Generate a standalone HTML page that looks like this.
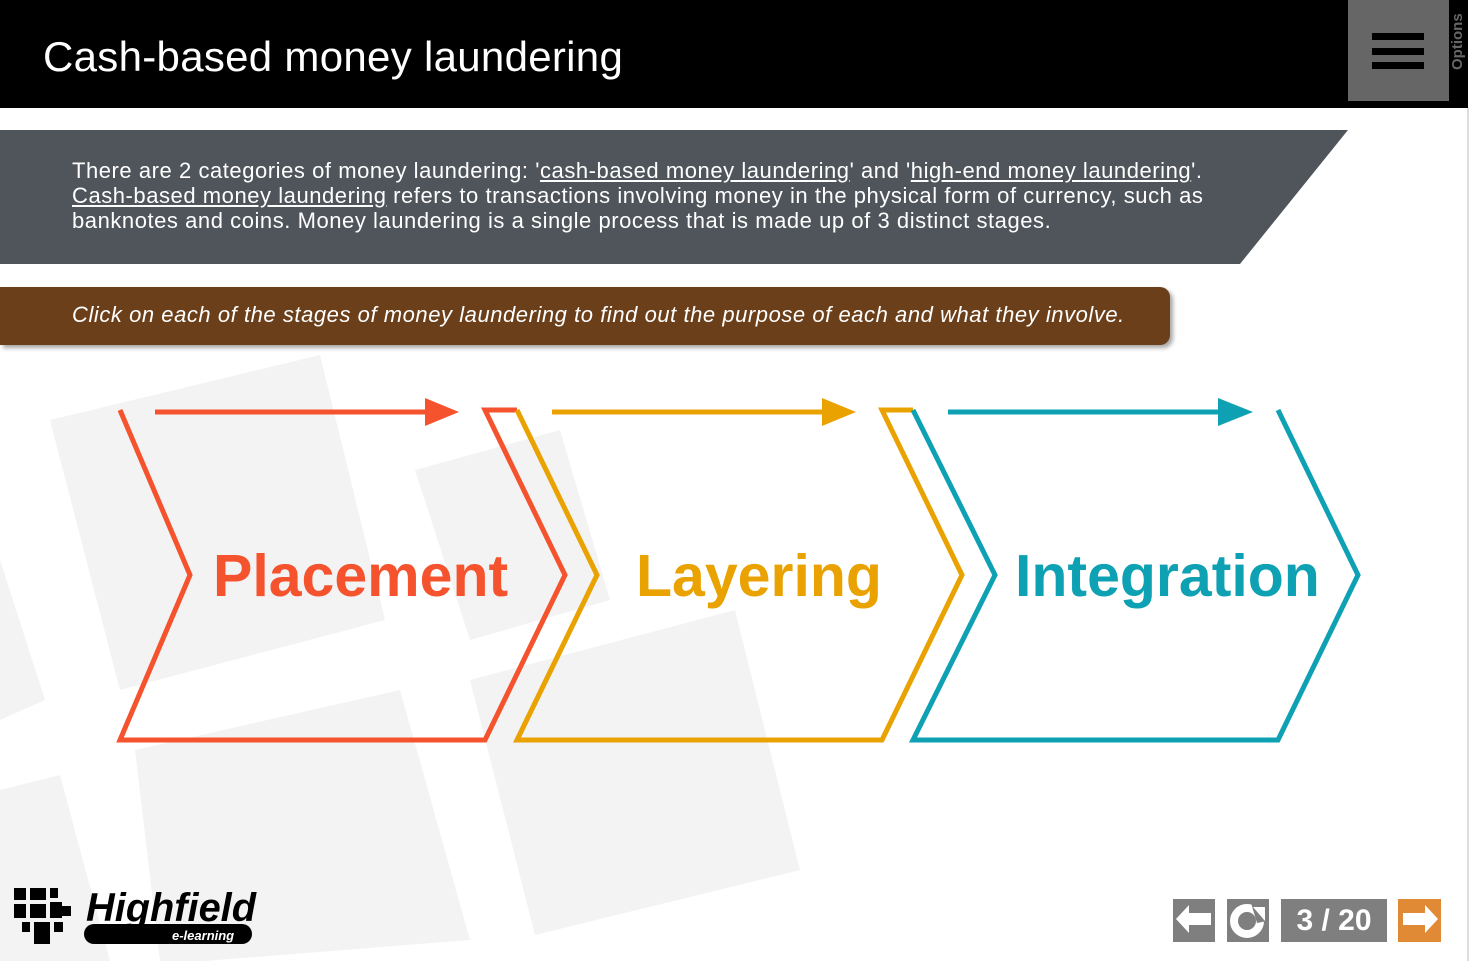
<!DOCTYPE html>
<html><head><meta charset="utf-8"><style>
body{margin:0;width:1470px;height:961px;overflow:hidden;background:#fff;font-family:"Liberation Sans",sans-serif;position:relative}
.hdr{position:absolute;left:0;top:0;width:1468px;height:108px;background:#000}
.hdr h1{position:absolute;left:43px;top:33px;margin:0;color:#fff;font-weight:normal;font-size:42px;letter-spacing:0.3px}
.menu{position:absolute;left:1348px;top:0;width:101px;height:101px;background:#666}
.menu i{position:absolute;left:24px;width:52px;height:7px;background:#000}
.opt{position:absolute;left:1449px;top:0;width:19px;height:70px;color:#666;font-weight:bold;font-size:15px;writing-mode:vertical-rl;transform:rotate(180deg);text-align:left}
.vline{position:absolute;left:1467px;top:108px;width:2px;height:853px;background:#ddd}
.txt{position:absolute;left:72px;top:158px;color:#fff;font-size:22px;line-height:25px;width:1150px;letter-spacing:0.55px}
.txt u{text-decoration:underline}
.brown{position:absolute;left:0;top:287px;width:1170px;height:58px;background:#6b3f1a;border-radius:0 10px 10px 0;box-shadow:3px 3px 4px rgba(0,0,0,.35)}
.brown span{position:absolute;left:72px;top:15px;color:#fff;font-style:italic;font-size:22px;letter-spacing:0.55px;white-space:nowrap}
.lab{position:absolute;font-weight:bold;font-size:59px}
.nav{position:absolute;top:899px;height:43px;background:#7f7f7f}
</style></head><body>
<svg width="1470" height="961" style="position:absolute;left:0;top:0">
<g fill="#f3f3f3">
<polygon points="50,420 320,355 385,620 120,690"/>
<polygon points="415,470 560,430 610,600 470,640"/>
<polygon points="470,680 735,610 800,870 535,935"/>
<polygon points="135,750 400,690 470,940 205,961 160,961"/>
<polygon points="0,560 45,700 0,720"/>
<polygon points="0,790 60,775 110,961 0,961"/>
</g>
<polygon points="0,130 1348,130 1240,264 0,264" fill="#4f555b"/>
<g fill="none" stroke-width="5" stroke-linejoin="miter">
<path d="M120 410 L190 575 L120 740 L485 740 L565 575 L485 410 L517 410" stroke="#f4532e"/>
<path d="M517 410 L597 575 L517 740 L882 740 L962 575 L882 410 L913 410" stroke="#e9a200"/>
<path d="M913 410 L995 575 L913 740 L1278 740 L1358 575 L1278 410" stroke="#0ea1b3"/>
<line x1="155" y1="412" x2="430" y2="412" stroke="#f4532e"/>
<line x1="552" y1="412" x2="827" y2="412" stroke="#e9a200"/>
<line x1="948" y1="412" x2="1224" y2="412" stroke="#0ea1b3"/>
</g>
<polygon points="425,398 459,412 425,426" fill="#f4532e"/>
<polygon points="822,398 856,412 822,426" fill="#e9a200"/>
<polygon points="1218,398 1253,412 1218,426" fill="#0ea1b3"/>
<g fill="#000">
<rect x="14" y="888" width="12" height="12"/><rect x="30" y="888" width="16" height="12"/><rect x="50" y="888" width="8" height="10"/>
<rect x="14" y="904" width="12" height="14"/><rect x="30" y="904" width="16" height="14"/><rect x="50" y="902" width="12" height="16"/><rect x="62" y="906" width="9" height="10"/>
<rect x="22" y="922" width="8" height="10"/><rect x="34" y="922" width="16" height="22"/><rect x="54" y="922" width="9" height="10"/>
<rect x="84" y="924" width="168" height="20" rx="10"/>
</g>
<text x="86" y="921" font-family="Liberation Sans" font-weight="bold" font-style="italic" font-size="40" fill="#000" textLength="170" lengthAdjust="spacingAndGlyphs">Highfield</text>
<text x="172" y="940" font-family="Liberation Sans" font-weight="bold" font-style="italic" font-size="13" fill="#fff">e-learning</text>
</svg>
<div class="hdr"><h1>Cash-based money laundering</h1></div>
<div class="menu"><i style="top:33px"></i><i style="top:48px"></i><i style="top:62px"></i></div>
<div class="opt">Options</div>
<div class="vline"></div>
<div class="txt">There are 2 categories of money laundering: '<u>cash-based money laundering</u>' and '<u>high-end money laundering</u>'.<br><u>Cash-based money laundering</u> refers to transactions involving money in the physical form of currency, such as banknotes and coins. Money laundering is a single process that is made up of 3 distinct stages.</div>
<div class="brown"><span>Click on each of the stages of money laundering to find out the purpose of each and what they involve.</span></div>
<div class="lab" style="left:213px;top:542px;color:#f4532e">Placement</div>
<div class="lab" style="left:636px;top:542px;color:#e9a200">Layering</div>
<div class="lab" style="left:1015px;top:542px;color:#0ea1b3">Integration</div>
<div class="nav" style="left:1173px;width:42px"><svg width="42" height="43"><polygon points="3,20 16,6 16,14 38,14 38,26 16,26 16,34" fill="#fff"/></svg></div>
<div class="nav" style="left:1227px;width:42px"><svg width="42" height="43"><circle cx="20" cy="22" r="13" fill="none" stroke="#fff" stroke-width="8"/><polygon points="24,4 40,4 40,22 30,24" fill="#7f7f7f"/><polygon points="26,8 38,8 38,22" fill="#fff"/></svg></div>
<div class="nav" style="left:1281px;width:106px;color:#fff;font-weight:bold;font-size:30px;text-align:center;line-height:43px">3 / 20</div>
<div class="nav" style="left:1398px;width:43px;background:#e08a35"><svg width="43" height="43"><polygon points="40,20 27,6 27,14 5,14 5,26 27,26 27,34" fill="#fff"/></svg></div>
</body></html>
